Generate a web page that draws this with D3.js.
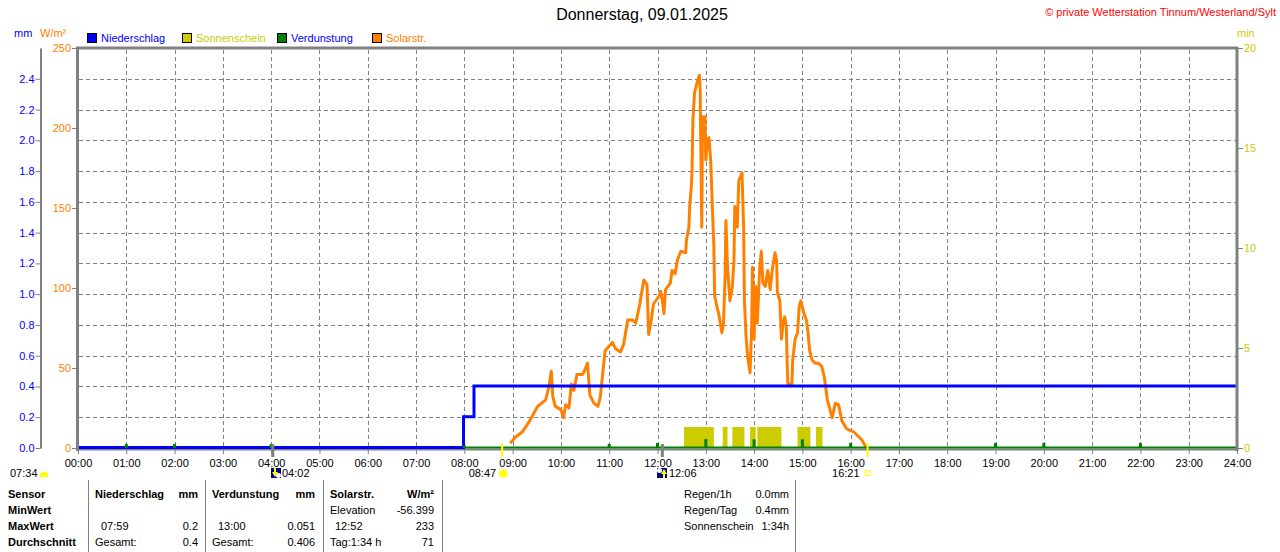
<!DOCTYPE html>
<html>
<head>
<meta charset="utf-8">
<script src="https://cdn.jsdelivr.net/npm/d3@7"></script>
<style>
  body { margin: 0; background: #fff; }
  svg { display: block; font-family: "Liberation Sans", Arial, sans-serif; }
</style>
</head>
<body>
<svg id="chart" width="1280" height="552"></svg>
<script>
// ---------------- DATA ----------------
const xTickLabels = ["00:00","01:00","02:00","03:00","04:00","05:00","06:00","07:00","08:00","09:00","10:00","11:00","12:00","13:00","14:00","15:00","16:00","17:00","18:00","19:00","20:00","21:00","22:00","23:00","24:00"];
const mmTicks = [0.0,0.2,0.4,0.6,0.8,1.0,1.2,1.4,1.6,1.8,2.0,2.2,2.4];
const wTicks = [0,50,100,150,200,250];
const minTicks = [0,5,10,15,20];

// Niederschlag (kumuliert, mm)
const rainTimes  = ["00:00","07:59","08:12","24:00"];
const rainValues = [0, 0.2, 0.4, 0.4];

// Sonnenschein (min)
const sunStart   = ["12:33","13:21","13:33","13:55","14:04","14:54","15:17"];
const sunEnd     = ["13:10","13:27","13:48","14:02","14:34","15:10","15:25"];
const sunMinutes = [1,1,1,1,1,1,1];

// Verdunstung (mm)
const evapTimes  = ["01:00","02:00","04:00","08:00","11:00","12:00","13:00","14:00","15:00","16:00","19:00","20:00","22:00"];
const evapValues = [0.02,0.02,0.02,0.01,0.02,0.026,0.051,0.05,0.05,0.026,0.026,0.026,0.026];

// Solarstrahlung (W/m²)
const solarTimes = [
 "08:57","09:04","09:12","09:20","09:31","09:41","09:45","09:48","09:50","09:53",
 "10:00","10:03","10:06","10:10","10:13","10:16","10:20","10:27","10:29","10:33",
 "10:36","10:41","10:46","10:49","10:52","10:55","11:04","11:08","11:14","11:18",
 "11:23","11:29","11:33","11:38","11:43","11:47","11:49","11:52","11:55","12:02",
 "12:04","12:06","12:08","12:10","12:16","12:18","12:22","12:25","12:29","12:35",
 "12:36","12:39","12:40","12:42","12:43","12:44","12:46","12:49","12:52","12:53",
 "12:55","12:56","12:59","13:00","13:02","13:04","13:06","13:08","13:10","13:11",
 "13:14","13:16","13:20","13:22","13:24","13:25","13:27","13:30","13:33","13:35",
 "13:36","13:39","13:41","13:45","13:47","13:48","13:50","13:52","13:55","13:57",
 "13:58","14:00","14:02","14:04","14:07","14:09","14:11","14:14","14:17","14:20",
 "14:23","14:26","14:28","14:29","14:32","14:34","14:36","14:38","14:40","14:41",
 "14:42","14:47","14:48","14:51","14:54","14:56","14:58","15:02","15:05","15:07",
 "15:09","15:12","15:16","15:20","15:24","15:27","15:29","15:31","15:37","15:41",
 "15:45","15:49","15:55","16:04","16:10","16:14","16:16","16:20"];
const solarValues = [
 3,7,10,16,26,30,38,48,32,26,
 24,19,27,25,40,36,46,46,48,53,
 33,28,26,32,47,61,66,62,60,65,
 80,80,78,90,105,102,71,79,90,95,
 98,92,84,99,103,111,109,118,123,122,
 130,138,151,163,174,205,222,228,233,224,
 138,207,207,180,192,194,180,153,126,95,
 88,84,72,78,107,142,113,92,101,117,
 151,138,167,172,138,92,70,57,47,76,
 113,68,101,78,113,123,103,101,111,99,
 113,122,117,97,92,68,78,82,76,55,
 40,40,55,68,72,88,92,84,80,72,
 61,55,53,53,51,45,38,30,19,28,
 27,17,12,10,7,5,3,0];

// Events below the axis
const moonTimes = ["04:02","12:06"];
const moonDir   = ["down","up"];
const sunriseTime = "08:47";
const sunsetTime  = "16:21";
const dawnTime    = "07:34";

// Table
const tableRows = ["Sensor","MinWert","MaxWert","Durchschnitt"];
const rainCol   = [["Niederschlag","mm"],["",""],["07:59","0.2"],["Gesamt:","0.4"]];
const evapCol   = [["Verdunstung","mm"],["",""],["13:00","0.051"],["Gesamt:","0.406"]];
const solarCol  = [["Solarstr.","W/m²"],["Elevation","-56.399"],["12:52","233"],["Tag:1:34 h","71"]];
const summaryLabels = ["Regen/1h","Regen/Tag","Sonnenschein"];
const summaryValues = ["0.0mm","0.4mm","1:34h"];

// ---------------- DRAW ----------------
const C = { blue:"#0000ff", yel:"#cccc00", bright:"#ffff00", green:"#008000", orange:"#ff8000", gray:"#808080", red:"#ff0000", navy:"#000080" };
const hrs = s => { const [h,m] = s.split(":").map(Number); return h + m/60; };
const svg = d3.select("#chart");
const FS = 11;

const x = d3.scaleLinear().domain([0,24]).range([78,1237]);
const yW = d3.scaleLinear().domain([0,250]).range([448,48]);
const yMM = d3.scaleLinear().domain([0,2.6]).range([448,48]);
const yMin = d3.scaleLinear().domain([0,20]).range([448,48]);

// Title & copyright
svg.append("text").attr("x",642).attr("y",20).attr("text-anchor","middle")
  .attr("font-size",16).attr("fill","#000").text("Donnerstag, 09.01.2025");
svg.append("text").attr("x",1276).attr("y",16).attr("text-anchor","end")
  .attr("font-size",FS).attr("fill",C.red).text("© private Wetterstation Tinnum/Westerland/Sylt");

// Units
svg.append("text").attr("x",14).attr("y",37).attr("font-size",FS).attr("fill",C.blue).text("mm");
svg.append("text").attr("x",40).attr("y",37).attr("font-size",FS).attr("fill",C.orange).text("W/m²");
svg.append("text").attr("x",1237).attr("y",37).attr("font-size",FS).attr("fill",C.yel).text("min");

// Legend
const legend = [
  {name:"Niederschlag", c:C.blue, tc:C.blue, x:87},
  {name:"Sonnenschein", c:C.yel, tc:C.yel, x:182},
  {name:"Verdunstung", c:C.green, tc:C.blue, x:277},
  {name:"Solarstr.", c:C.orange, tc:C.orange, x:372}
];
const lg = svg.append("g").selectAll("g").data(legend).join("g");
lg.append("rect").attr("x",d=>d.x+0.5).attr("y",33.5).attr("width",9).attr("height",9)
  .attr("fill",d=>d.c).attr("stroke","#000").attr("stroke-width",1);
lg.append("text").attr("x",d=>d.x+14).attr("y",42).attr("font-size",FS).attr("fill",d=>d.tc).text(d=>d.name);

// Grid
const grid = svg.append("g").attr("stroke",C.gray).attr("stroke-width",1).attr("stroke-dasharray","4,3").attr("shape-rendering","crispEdges");
grid.selectAll("line.v").data(d3.range(1,24)).join("line")
  .attr("x1",d=>Math.round(x(d))+0.5).attr("x2",d=>Math.round(x(d))+0.5).attr("y1",50).attr("y2",448);
grid.selectAll("line.h").data(mmTicks.filter(d=>d>0)).join("line")
  .attr("x1",79).attr("x2",1236).attr("y1",d=>Math.round(yMM(d))+0.5).attr("y2",d=>Math.round(yMM(d))+0.5);

// Sunshine bars
svg.append("g").selectAll("rect").data(sunStart.map((s,i)=>({s:hrs(s), e:hrs(sunEnd[i]), v:sunMinutes[i]})))
  .join("rect").attr("x",d=>x(d.s)).attr("width",d=>x(d.e)-x(d.s))
  .attr("y",d=>yMin(d.v)-1).attr("height",d=>448-yMin(d.v)+1).attr("fill",C.yel);

// Solar line
const solarData = solarTimes.map((t,i)=>({t:hrs(t), v:solarValues[i]}));
svg.append("path").datum(solarData)
  .attr("d", d3.line().x(d=>x(d.t)).y(d=>yW(d.v)))
  .attr("fill","none").attr("stroke",C.orange).attr("stroke-width",3).attr("stroke-linejoin","round");

// Bottom axis line (gray)
svg.append("line").attr("x1",77).attr("x2",1238).attr("y1",449.5).attr("y2",449.5)
  .attr("stroke",C.gray).attr("stroke-width",2);

// Verdunstung baseline
svg.append("line").attr("x1",x(0)).attr("x2",x(24)).attr("y1",yMM(0)-0.5).attr("y2",yMM(0)-0.5)
  .attr("stroke",C.green).attr("stroke-width",2);

// Rain line
const rainData = rainTimes.map((t,i)=>({t:hrs(t), v:rainValues[i]}));
svg.append("path").datum(rainData)
  .attr("d", d3.line().curve(d3.curveStepAfter).x(d=>x(d.t)).y(d=>yMM(d.v)-0.5))
  .attr("fill","none").attr("stroke",C.blue).attr("stroke-width",3);

// Verdunstung bars (on top)
svg.append("g").selectAll("rect").data(evapTimes.map((t,i)=>({t:hrs(t), v:evapValues[i]})))
  .join("rect").attr("x",d=>x(d.t)-1.5).attr("width",3)
  .attr("y",d=>yMM(d.v)-1).attr("height",d=>448-yMM(d.v)+1).attr("fill",C.green);

// Borders
const border = svg.append("g").attr("stroke",C.gray).attr("stroke-width",3).attr("fill","none");
border.append("line").attr("x1",76).attr("x2",1238).attr("y1",48).attr("y2",48);
border.append("line").attr("x1",77.5).attr("x2",77.5).attr("y1",47).attr("y2",451);
border.append("line").attr("x1",1237).attr("x2",1237).attr("y1",47).attr("y2",451);

// Axes
function styleAxis(g, color) {
  g.attr("font-family",null).attr("font-size",FS);
  g.selectAll(".tick text").attr("fill",color);
  g.selectAll(".tick line").attr("stroke",C.gray);
  g.select(".domain").attr("stroke",C.gray);
}
const gMM = svg.append("g").attr("transform","translate(40.5,0)")
  .call(d3.axisLeft(yMM).tickValues(mmTicks).tickFormat(d3.format(".1f")).tickSize(5).tickSizeOuter(0).tickPadding(1));
styleAxis(gMM, C.blue);
gMM.select(".domain").attr("stroke-width",2);

const gW = svg.append("g").attr("transform","translate(77,0)")
  .call(d3.axisLeft(yW).tickValues(wTicks).tickSize(5).tickSizeOuter(0).tickPadding(1));
styleAxis(gW, C.orange);
gW.select(".domain").remove();

const gMin = svg.append("g").attr("transform","translate(1238,0)")
  .call(d3.axisRight(yMin).tickValues(minTicks).tickSize(5).tickSizeOuter(0).tickPadding(1));
styleAxis(gMin, C.yel);
gMin.select(".domain").remove();

const gX = svg.append("g").attr("transform","translate(0,450)")
  .call(d3.axisBottom(x).tickValues(d3.range(0,25)).tickFormat((d,i)=>xTickLabels[i]).tickSize(4).tickPadding(5));
styleAxis(gX, "#000");
gX.select(".domain").remove();

// Event markers below axis
const ev = svg.append("g").attr("font-size",FS);
moonTimes.forEach((t,i)=>{
  const mx = x(hrs(t));
  ev.append("rect").attr("x",mx-1.5).attr("y",444).attr("width",3).attr("height",13).attr("fill",C.gray);
  const ix = Math.round(mx) - (i===0 ? 2 : 5);
  ev.append("rect").attr("x",ix).attr("y",468).attr("width",10).attr("height",10).attr("fill",C.navy);
  if (moonDir[i]==="down") {
    ev.append("circle").attr("cx",ix+7.5).attr("cy",475.5).attr("r",2.5).attr("fill","#fff");
    ev.append("path").attr("d",`M${ix+1},${472} L${ix+7},${472} L${ix+4},${477} Z M${ix+3},${468} h2 v4 h-2 Z`).attr("fill",C.bright);
  } else {
    ev.append("circle").attr("cx",ix+2.5).attr("cy",470.5).attr("r",2.5).attr("fill","#fff");
    ev.append("path").attr("d",`M${ix+4},${474} L${ix+10},${474} L${ix+7},${469} Z M${ix+6},${474} h2 v4 h-2 Z`).attr("fill",C.bright);
  }
  ev.append("text").attr("x",ix+(i===0?11:12)).attr("y",477).attr("fill","#000").text(t);
});
// Sunrise / sunset bars
[sunriseTime, sunsetTime].forEach(t=>{
  ev.append("rect").attr("x",x(hrs(t))-1).attr("y",443).attr("width",2).attr("height",14).attr("fill",C.bright);
});
const srx = x(hrs(sunriseTime));
ev.append("circle").attr("cx",srx+1).attr("cy",473.5).attr("r",5).attr("fill","#ffff99");
ev.append("circle").attr("cx",srx+1).attr("cy",473.5).attr("r",3.5).attr("fill",C.bright);
ev.append("text").attr("x",srx-6).attr("y",477).attr("text-anchor","end").attr("fill","#000").text(sunriseTime);
const ssx = x(hrs(sunsetTime));
ev.append("rect").attr("x",ssx-2.5).attr("y",470.5).attr("width",5).attr("height",5).attr("fill","none").attr("stroke",C.bright);
ev.append("text").attr("x",ssx-8).attr("y",477).attr("text-anchor","end").attr("fill","#000").text(sunsetTime);
// Dawn
ev.append("text").attr("x",10).attr("y",477).attr("fill","#000").text(dawnTime);
ev.append("path").attr("d","M40,477 L40,474 Q44,469 48,474 L48,477 Z").attr("fill",C.bright);

// Table
const tb = svg.append("g").attr("font-size",FS).attr("fill","#000");
[88,205,323,442,795].forEach(sx=>{
  tb.append("line").attr("x1",sx+0.5).attr("x2",sx+0.5).attr("y1",480).attr("y2",552)
    .attr("stroke",C.gray).attr("stroke-width",1);
});
const rowY = [498,514,530,546];
tableRows.forEach((r,i)=>{
  tb.append("text").attr("x",8).attr("y",rowY[i]).attr("font-weight","bold").text(r);
});
function col(data, lx, rx, indent) {
  data.forEach((d,i)=>{
    const bold = i===0;
    const offs = (i===2) ? indent : 0;
    tb.append("text").attr("x",lx+offs).attr("y",rowY[i]).attr("font-weight",bold?"bold":null).text(d[0]);
    tb.append("text").attr("x",rx).attr("y",rowY[i]).attr("text-anchor","end").attr("font-weight",bold?"bold":null).text(d[1]);
  });
}
col(rainCol, 95, 198, 6);
col(evapCol, 212, 315, 6);
col(solarCol, 330, 434, 5);
summaryLabels.forEach((s,i)=>{
  tb.append("text").attr("x",684).attr("y",rowY[i]).text(s);
  tb.append("text").attr("x",789).attr("y",rowY[i]).attr("text-anchor","end").text(summaryValues[i]);
});
</script>
</body>
</html>
